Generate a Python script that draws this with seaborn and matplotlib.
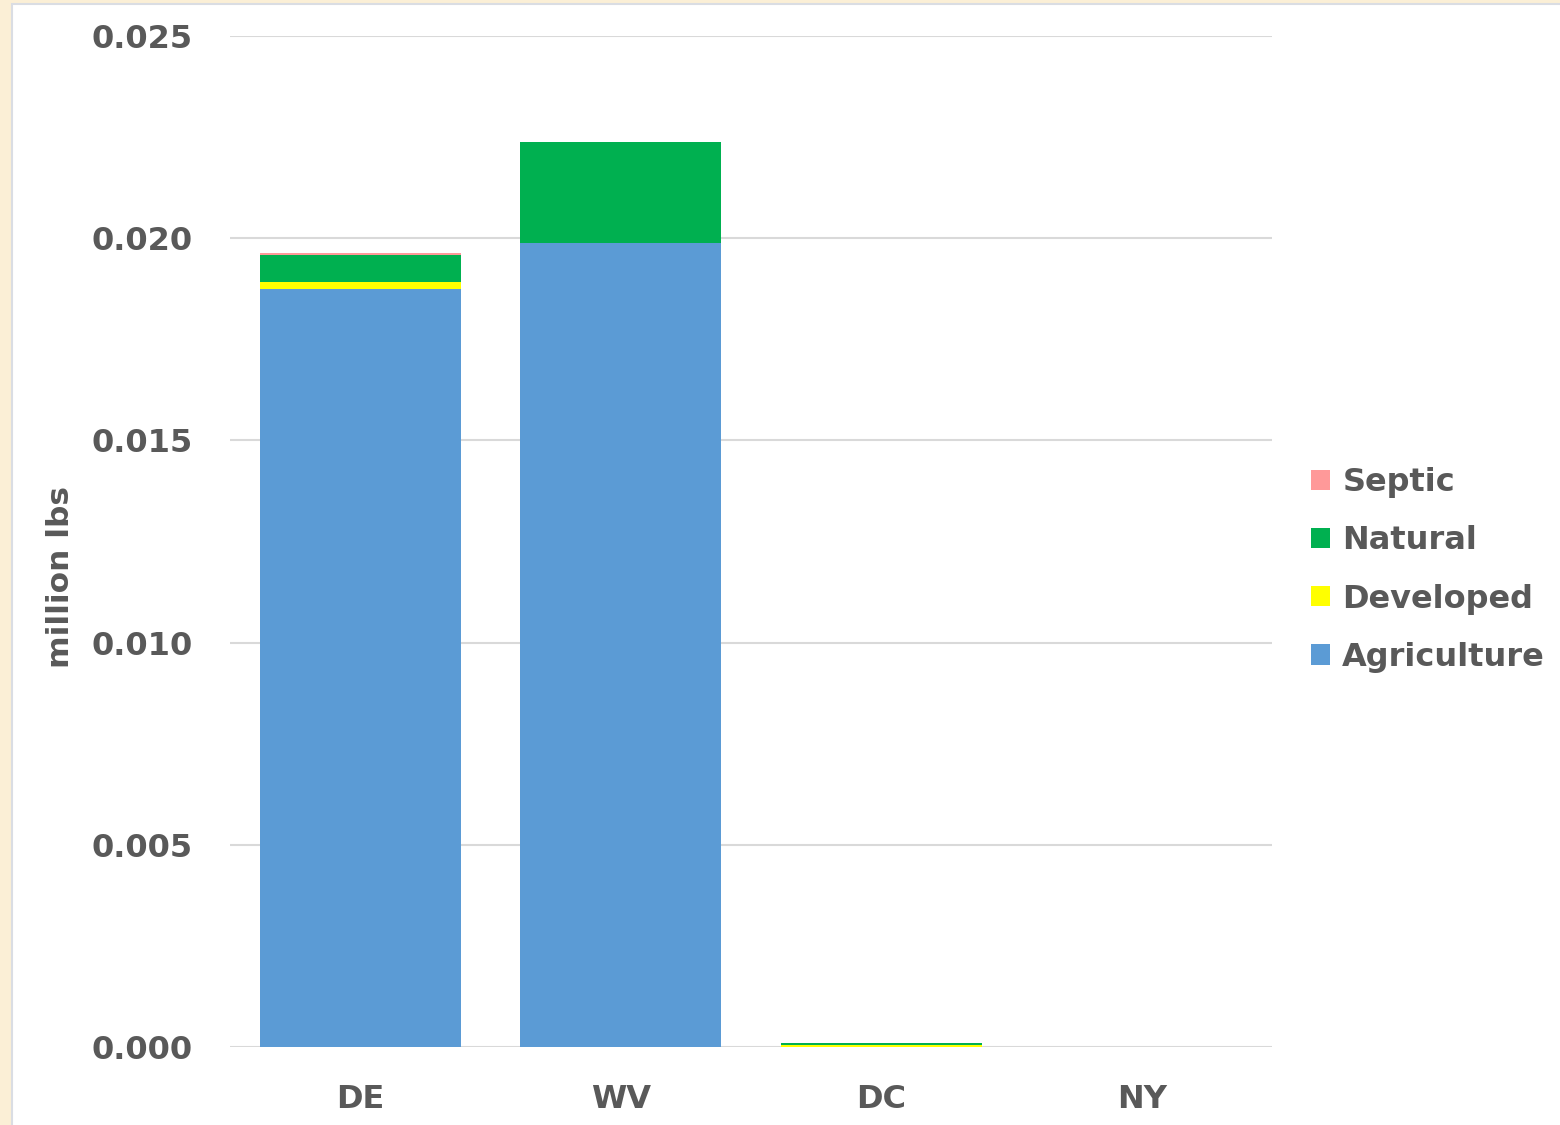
import numpy as np
import pandas as pd
import matplotlib.pyplot as plt
import matplotlib
import seaborn as sns

states = ["DE", "WV", "DC", "NY"]
agriculture = [0.01874, 0.01989, 0.00000, 0.0]
developed = [0.00017, 0.00000, 0.00005, 0.0]
natural = [0.00067, 0.00250, 0.00005, 0.0]
septic = [0.00005, 0.00000, 0.00000, 0.0]

series_names = ["Agriculture", "Developed", "Natural", "Septic"]
series_colors = ["#5B9BD5", "#FFFF00", "#00B050", "#FF9999"]

df = pd.DataFrame({"state": states, "Agriculture": agriculture, "Developed": developed,
                   "Natural": natural, "Septic": septic})

sns.set_theme(style="white")
plt.rcParams["font.family"] = ["DejaVu Sans"]
text_color = "#595959"

fig = plt.figure(figsize=(15.6, 11.25), dpi=100, facecolor="#FBEFD6")
# white chart area on top of the beige page
fig.patches.append(matplotlib.patches.Rectangle((12 / 1560, -0.01), 1.1, 1.01 - 4 / 1125,
                                                transform=fig.transFigure, facecolor="white",
                                                edgecolor="#DADDE3", linewidth=1.5, zorder=-10))
ax = fig.add_axes([230 / 1560, 1 - 1047 / 1125, 1042 / 1560, 1011 / 1125])
ax.set_facecolor("white")
ax.patch.set_alpha(0)

# stacked bars: draw cumulative totals from the top series down
cum = df[series_names].cumsum(axis=1)
for name, color in reversed(list(zip(series_names, series_colors))):
    sns.barplot(x=df["state"], y=cum[name], order=states, color=color, label=name,
                width=0.77, saturation=1, linewidth=0, ax=ax, zorder=3)

ax.set_xlim(-0.5, 3.5)
ax.set_ylim(0, 0.025)
ax.set_yticks(np.arange(0, 0.0251, 0.005))
ax.yaxis.set_major_formatter(matplotlib.ticker.FormatStrFormatter("%.3f"))
ax.grid(axis="y", color="#D9D9D9", linewidth=1.5, zorder=0)
ax.set_axisbelow(True)
sns.despine(ax=ax, left=True, bottom=True)

ax.tick_params(axis="both", length=0, labelsize=23, labelcolor=text_color)
ax.tick_params(axis="y", pad=27)
ax.tick_params(axis="x", pad=27)
for lab in ax.get_xticklabels() + ax.get_yticklabels():
    lab.set_fontweight("bold")

ax.set_xlabel("")
ax.set_ylabel("million lbs", fontsize=22.5, fontweight="bold", color=text_color)
ax.yaxis.set_label_coords(-0.149, 0.465)

leg = ax.legend(loc="center left", bbox_to_anchor=(1311 / 1560, 1 - 570 / 1125),
                bbox_transform=fig.transFigure, frameon=False, fontsize=23,
                handlelength=0.6, handleheight=0.6, handletextpad=0.38,
                labelspacing=0.85, borderpad=0, borderaxespad=0)
for t in leg.get_texts():
    t.set_color(text_color)
    t.set_fontweight("bold")

fig.savefig("out.png", dpi=100, facecolor=fig.get_facecolor())
